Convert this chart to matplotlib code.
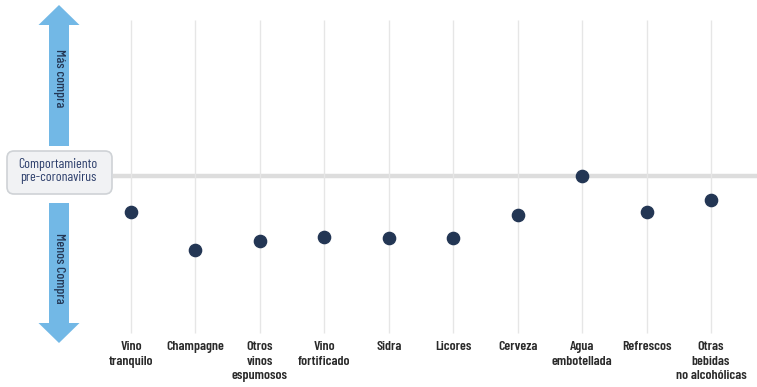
import matplotlib

matplotlib.use("Agg")
import matplotlib.pyplot as plt
from matplotlib.patches import Polygon, FancyBboxPatch

# categories and change vs. pre-coronavirus behaviour (0 = baseline, negative = buy less)
categories = ["Vino\ntranquilo", "Champagne", "Otros\nvinos\nespumosos", "Vino\nfortificado",
              "Sidra", "Licores", "Cerveza", "Agua\nembotellada", "Refrescos",
              "Otras\nbebidas\nno alcohólicas"]
values = [-36, -74, -65, -61, -62, -62, -39, 0, -36, -24]

W, H = 757, 387
NAVY = "#233654"
BLUE = "#72b8e6"
GRID = "#e6e6e6"
COND = ["Barlow Condensed", "DejaVu Sans"]

fig = plt.figure(figsize=(W / 100, H / 100), dpi=100)

# main axes spans the whole figure; x pixel = 131 + 64.45 * i, baseline at y pixel 175.5
step = 64.45
x0px, base_px = 131, 175.5
ax = fig.add_axes([0, 0, 1, 1])
ax.set_xlim(-x0px / step, (W - x0px) / step)
ax.set_ylim(-(H - base_px), base_px)
ax.axis("off")

xs = list(range(len(categories)))
ax.vlines(xs, base_px - 333, base_px - 20, color=GRID, lw=1.0, zorder=1)
ax.plot(xs, values, "o", color=NAVY, ms=8.8, zorder=4)
for x, lab in zip(xs, categories):
    ax.text(x, base_px - 341, lab, ha="center", va="top", fontsize=10,
            family=COND, fontweight=600, color="#2a2a2a", linespacing=1.3)

# overlay in figure pixels for the decorations (arrows, reference box)
ov = fig.add_axes([0, 0, 1, 1], zorder=-1)
ov.set_xlim(0, W)
ov.set_ylim(H, 0)
ov.axis("off")

ov.plot([113, W], [base_px, base_px], color="#dddddd", lw=3.2, solid_capstyle="butt", zorder=2)

cx, hw, sw = 59, 20.5, 10
up = [(cx, 5), (cx + hw, 25), (cx + sw, 25), (cx + sw, 146), (cx - sw, 146),
      (cx - sw, 25), (cx - hw, 25)]
down = [(cx - sw, 203), (cx + sw, 203), (cx + sw, 323), (cx + hw, 323), (cx, 343),
        (cx - hw, 323), (cx - sw, 323)]
for pts in (up, down):
    ov.add_patch(Polygon(pts, closed=True, facecolor=BLUE, edgecolor="none", zorder=2))

ov.text(cx, 78, "Más compra", rotation=-90, ha="center", va="center",
        fontsize=10, family=COND, fontweight=500, color=NAVY)
ov.text(cx, 268, "Menos Compra", rotation=-90, ha="center", va="center",
        fontsize=10, family=COND, fontweight=500, color=NAVY)

ov.add_patch(FancyBboxPatch((7, 151), 105, 43, boxstyle="round,pad=0,rounding_size=7",
                            facecolor="#f1f2f4", edgecolor="#cfd2d6", lw=1.2, zorder=3))
ov.text(58, 171, "Comportamiento\npre-coronavirus", ha="center", va="center",
        fontsize=10, family=COND, color="#2c3e6b", linespacing=0.95, zorder=4)

fig.savefig("out.png", dpi=100)
